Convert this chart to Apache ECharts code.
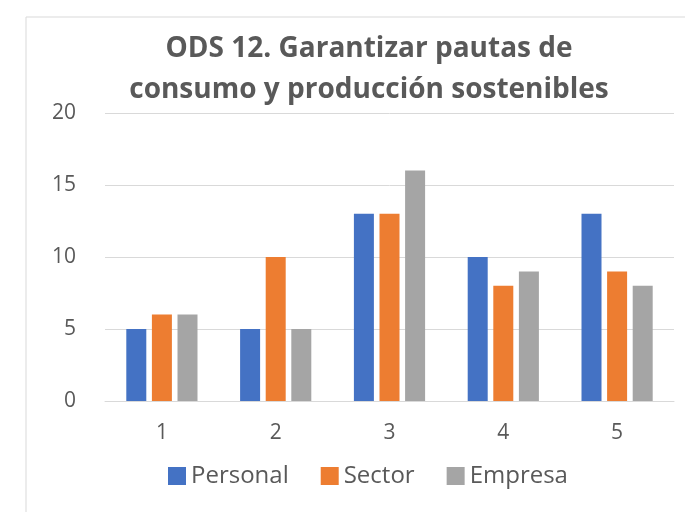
<!DOCTYPE html>
<html>
<head>
<meta charset="utf-8">
<script src="https://cdn.jsdelivr.net/npm/echarts@6/dist/echarts.min.js"></script>
<style>
  html, body { margin: 0; padding: 0; background: #fff; }
  #chart { width: 685px; height: 512px; }
</style>
</head>
<body>
<div id="chart"></div>
<script>
// ODS 12 bar chart
const categories = ['1', '2', '3', '4', '5'];
const personal = [5, 5, 13, 10, 13];
const sector = [6, 10, 13, 8, 9];
const empresa = [6, 5, 16, 9, 8];

const FONT = "'Open Sans', sans-serif";
const TEXT = '#595959';

const chart = echarts.init(document.getElementById('chart'), null, { renderer: 'canvas' });

const barSeries = (name, data, color) => ({
  name,
  type: 'bar',
  data,
  barWidth: 20,
  barGap: '28%',
  itemStyle: { color },
});

chart.setOption({
  backgroundColor: '#fff',
  animation: false,
  title: {
    text: 'ODS 12. Garantizar pautas de\nconsumo y producción sostenibles',
    left: 364,
    textAlign: 'center',
    top: 24,
    textStyle: {
      color: TEXT,
      fontFamily: FONT,
      fontWeight: 'bold',
      fontSize: 28,
      lineHeight: 41,
    },
  },
  graphic: [
    {
      type: 'rect',
      shape: { x: 26, y: 17, width: 700, height: 520 },
      style: { fill: 'none', stroke: '#d9d9d9', lineWidth: 1 },
      silent: true,
    },
  ],
  legend: {
    data: ['Personal', 'Sector', 'Empresa'],
    bottom: 19,
    left: 163,
    icon: 'rect',
    itemWidth: 18,
    itemHeight: 18,
    itemGap: 32,
    textStyle: { color: TEXT, fontFamily: FONT, fontSize: 24 },
  },
  grid: { left: 105, right: 11, top: 113, bottom: 111 },
  xAxis: {
    type: 'category',
    data: categories,
    axisLine: { lineStyle: { color: '#d9d9d9', width: 1 } },
    axisTick: { show: false },
    axisLabel: { color: TEXT, fontFamily: FONT, fontSize: 21, margin: 22 },
  },
  yAxis: {
    type: 'value',
    min: 0,
    max: 20,
    interval: 5,
    axisLine: { show: false },
    axisTick: { show: false },
    axisLabel: { color: TEXT, fontFamily: FONT, fontSize: 21, margin: 29 },
    splitLine: { lineStyle: { color: '#d9d9d9', width: 1 } },
  },
  series: [
    barSeries('Personal', personal, '#4472C4'),
    barSeries('Sector', sector, '#ED7D31'),
    barSeries('Empresa', empresa, '#A5A5A5'),
  ],
});
</script>
</body>
</html>
